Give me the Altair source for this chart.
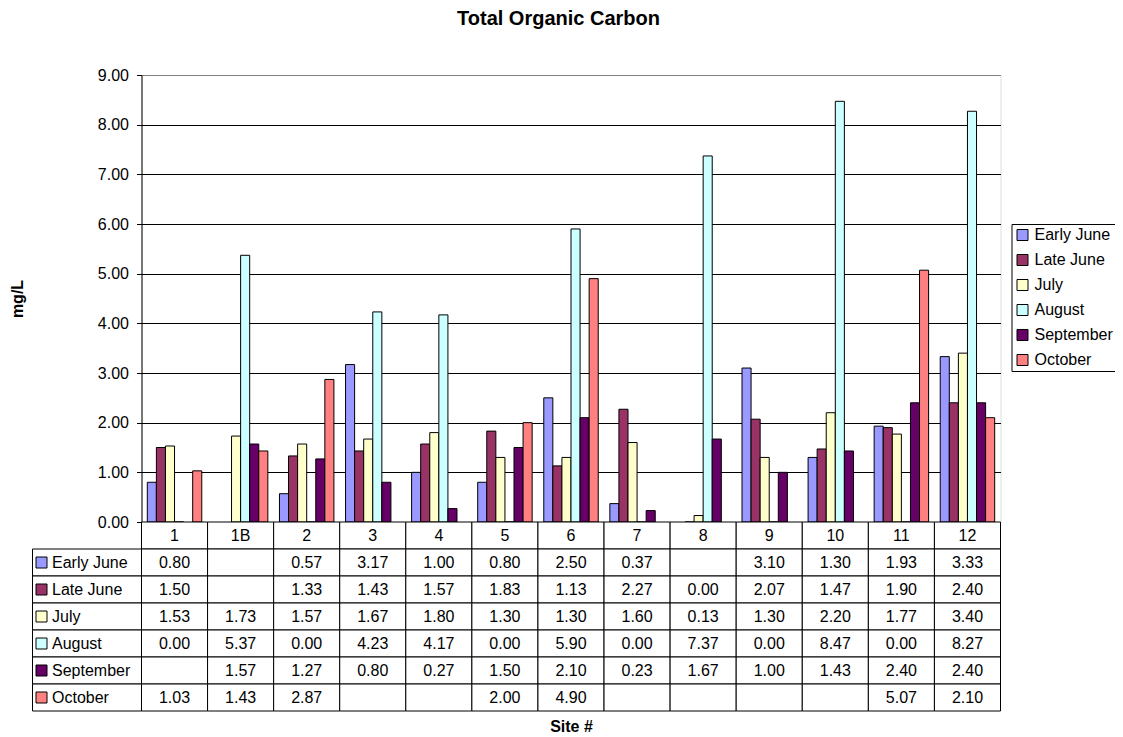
import altair as alt
import pandas as pd

FONT = "Liberation Sans"

sites = ["1", "1B", "2", "3", "4", "5", "6", "7", "8", "9", "10", "11", "12"]
series_names = ["Early June", "Late June", "July", "August", "September", "October"]
series_colors = ["#9999FF", "#993366", "#FFFFCC", "#CCFFFF", "#660066", "#FF8080"]

early_june = [0.80, None, 0.57, 3.17, 1.00, 0.80, 2.50, 0.37, None, 3.10, 1.30, 1.93, 3.33]
late_june = [1.50, None, 1.33, 1.43, 1.57, 1.83, 1.13, 2.27, 0.00, 2.07, 1.47, 1.90, 2.40]
july = [1.53, 1.73, 1.57, 1.67, 1.80, 1.30, 1.30, 1.60, 0.13, 1.30, 2.20, 1.77, 3.40]
august = [0.00, 5.37, 0.00, 4.23, 4.17, 0.00, 5.90, 0.00, 7.37, 0.00, 8.47, 0.00, 8.27]
september = [None, 1.57, 1.27, 0.80, 0.27, 1.50, 2.10, 0.23, 1.67, 1.00, 1.43, 2.40, 2.40]
october = [1.03, 1.43, 2.87, None, None, 2.00, 4.90, None, None, None, None, 5.07, 2.10]

y_ticks = [0, 1, 2, 3, 4, 5, 6, 7, 8, 9]

HEADER = "__header__"
table_rows = [HEADER] + series_names

all_series = [early_june, late_june, july, august, september, october]
records = []
for name, vals in zip(series_names, all_series):
    for site, v in zip(sites, vals):
        if v is not None:
            records.append({"site": site, "series": name, "value": v})
data = pd.DataFrame(records)

grid = pd.DataFrame([{"site": s, "series": r} for r in table_rows for s in sites])
header = pd.DataFrame({"site": sites, "series": [HEADER] * len(sites)})
labels = pd.DataFrame({"series": series_names})

W, H = 859, 447
TABLE_RANGE = [447, 636]

x_enc = alt.X(
    "site:N",
    sort=sites,
    scale=alt.Scale(domain=sites, paddingInner=0, paddingOuter=0),
    axis=alt.Axis(
        labels=False, ticks=False, grid=False, domain=True, domainColor="black",
        title="Site #", titleFont=FONT, titleFontSize=16, titleFontWeight="bold",
        titleColor="black", titleX=429.5, titleY=209, titleBaseline="alphabetic",
        titleAlign="center",
    ),
)

color_enc = alt.Color(
    "series:N",
    scale=alt.Scale(domain=series_names, range=series_colors),
    legend=alt.Legend(
        orient="none", legendX=870, legendY=149, title=None,
        labelFont=FONT, labelFontSize=16, labelColor="black", labelOffset=4,
        symbolType="square", symbolSize=121, symbolStrokeColor="black",
        symbolStrokeWidth=1, symbolOpacity=1, rowPadding=9, padding=3,
        strokeColor="black", fillColor="white",
    ),
)

tab_y = alt.Y(
    "series:N",
    scale=alt.Scale(domain=table_rows, range=TABLE_RANGE, paddingInner=0, paddingOuter=0),
    axis=None,
)

bars = alt.Chart(data).mark_bar(stroke="black", strokeWidth=1).encode(
    x=x_enc,
    xOffset=alt.XOffset(
        "series:N",
        scale=alt.Scale(domain=series_names, paddingInner=0, paddingOuter=0.64),
    ),
    y=alt.Y(
        "value:Q",
        scale=alt.Scale(domain=[0, 9], nice=False, zero=True),
        axis=alt.Axis(
            values=y_ticks, format=".2f", labelFont=FONT, labelFontSize=16,
            labelColor="black", labelPadding=8, tickColor="black", tickSize=5,
            domainColor="black", grid=True,
            gridColor=alt.condition("datum.value >= 9", alt.value("#808080"), alt.value("black")),
            gridWidth=1,
            title="mg/L", titleFont=FONT, titleFontSize=16, titleFontWeight="bold",
            titleColor="black", titleAngle=-90, titleX=-119.5, titleY=223.5,
            titleBaseline="alphabetic", titleAlign="center",
        ),
    ),
    color=color_enc,
)

cells = alt.Chart(grid).mark_rect(fill="white", stroke="black", strokeWidth=1).encode(
    x=x_enc, y=tab_y,
)

left_cells = alt.Chart(labels).mark_rect(fill="white", stroke="black", strokeWidth=1).encode(
    x=alt.value(-109), x2=alt.value(0), y=tab_y,
)

squares = alt.Chart(labels).mark_point(
    shape="square", size=121, filled=True, stroke="black", strokeWidth=1, opacity=1
).encode(
    x=alt.value(-100), y=tab_y, color=color_enc,
)

row_labels = alt.Chart(labels).mark_text(
    align="left", baseline="middle", font=FONT, fontSize=16, color="black"
).encode(
    x=alt.value(-89.5), y=tab_y, text="series:N",
)

header_text = alt.Chart(header).mark_text(
    align="center", baseline="middle", font=FONT, fontSize=16, color="black"
).encode(
    x=x_enc, y=tab_y, text="site:N",
)

value_text = alt.Chart(data).mark_text(
    align="center", baseline="middle", font=FONT, fontSize=16, color="black"
).encode(
    x=x_enc, y=tab_y, text=alt.Text("value:Q", format=".2f"),
)

chart = (
    alt.layer(bars, cells, left_cells, squares, row_labels, header_text, value_text)
    .resolve_scale(y="independent")
    .properties(
        width=W,
        height=H,
        padding={"left": 133.5, "top": 67, "right": 114.5, "bottom": 213},
        autosize=alt.AutoSizeParams(type="none"),
        title=alt.TitleParams(
            text="Total Organic Carbon", font=FONT, fontSize=20, fontWeight="bold",
            color="black", anchor="middle", frame="group", offset=22, dx=-12.5,
            baseline="alphabetic",
        ),
    )
    .configure_view(fill="#E8E8E8", stroke="#808080", strokeWidth=1)
    .configure(background="white")
)

chart.save("out.html", embed_options={"renderer": "svg", "actions": False})
